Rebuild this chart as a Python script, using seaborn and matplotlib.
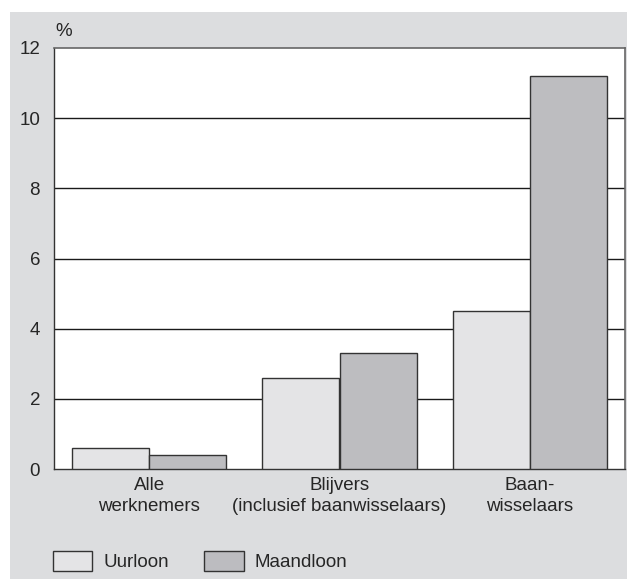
import numpy as np
import pandas as pd
import matplotlib
matplotlib.use("Agg")
import matplotlib.pyplot as plt
import seaborn as sns
from matplotlib.patches import Patch, Rectangle

groups = ["Alle\nwerknemers", "Blijvers\n(inclusief baanwisselaars)", "Baan-\nwisselaars"]
series = ["Uurloon", "Maandloon"]
uurloon = [0.6, 2.6, 4.5]
maandloon = [0.4, 3.3, 11.2]
yticks = [0, 2, 4, 6, 8, 10, 12]

colors = {"Uurloon": "#e4e4e6", "Maandloon": "#bcbcc0"}
bg = "#dcdddf"
fs = 13.5

df = pd.DataFrame({
    "groep": groups * 2,
    "reeks": [series[0]] * 3 + [series[1]] * 3,
    "waarde": uurloon + maandloon,
})

sns.set_style("white")
plt.rcParams["font.family"] = ["Liberation Sans", "DejaVu Sans"]

W, H = 627, 579
fig = plt.figure(figsize=(W / 100, H / 100), dpi=100, facecolor="white")
# grey panel (top strip stays white)
fig.patches.append(Rectangle((10 / W, 0), 1, (H - 12) / H, transform=fig.transFigure,
                             facecolor=bg, edgecolor="none", zorder=-10))

ax = fig.add_axes([54 / W, (H - 469) / H, (625 - 54) / W, (469 - 48) / H])
ax.set_facecolor("white")

sns.barplot(data=df, x="groep", y="waarde", hue="reeks", palette=colors,
            width=0.81, edgecolor="#333333", linewidth=1.0, ax=ax,
            legend=False, zorder=3)

ax.set_ylim(0, 12)
ax.set_xlim(-0.5, 2.5)
ax.set_yticks(yticks)
ax.set_yticklabels([str(t) for t in yticks], fontsize=fs)
ax.tick_params(axis="y", length=0, pad=10)
ax.tick_params(axis="x", length=0, pad=6, labelsize=fs)
for lbl in ax.get_xticklabels():
    lbl.set_linespacing(1.3)
ax.set_xlabel("")
ax.set_ylabel("")
for y in yticks[1:-1]:
    ax.axhline(y, color="#1a1a1a", lw=1.0, zorder=1)

for side in ["left", "bottom"]:
    ax.spines[side].set_color("#333333")
    ax.spines[side].set_linewidth(1.0)
for side in ["top", "right"]:
    ax.spines[side].set_color("#666666")
    ax.spines[side].set_linewidth(1.2)

fig.text(55 / W, 1 - 32 / H, "%", fontsize=fs, va="center", ha="left")

handles = [Patch(facecolor=colors[s], edgecolor="#333333", lw=1.0, label=s) for s in series]
fig.legend(handles=handles, loc="center left", bbox_to_anchor=(45 / W, 1 - 561 / H),
           ncol=2, frameon=False, fontsize=fs, handlelength=2.1, handleheight=1.3,
           handletextpad=0.6, columnspacing=1.9, borderaxespad=0)

fig.savefig("out.png", dpi=100, facecolor="white")
